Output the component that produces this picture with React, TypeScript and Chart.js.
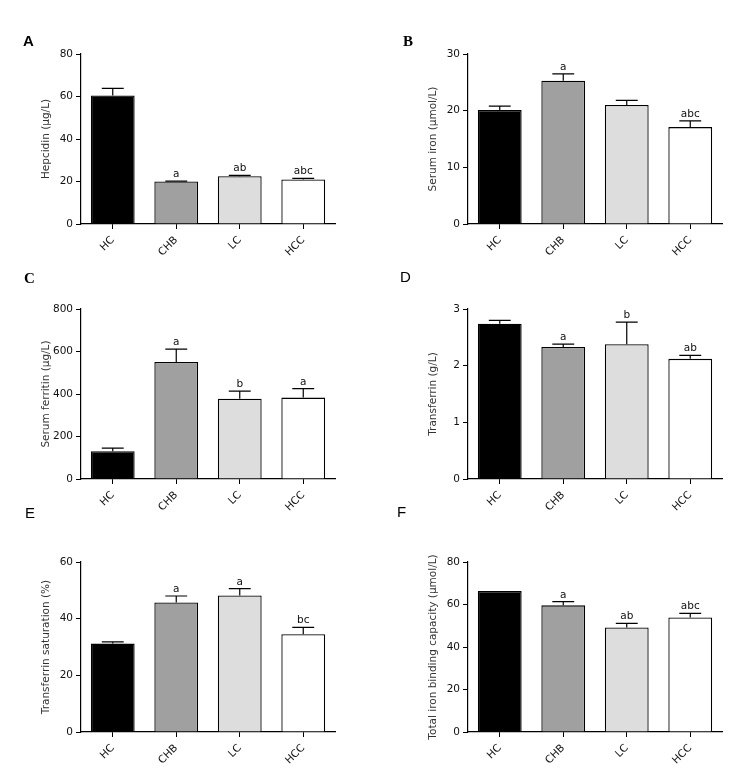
import React, { useEffect, useRef } from "react";
import { Chart, registerables } from "chart.js";

Chart.register(...registerables);

const categories = ["HC", "CHB", "LC", "HCC"];
const barColors = ["#000000", "#a0a0a0", "#dcdddc", "#ffffff"];

const hepcidinMean = [60.5, 20.0, 22.5, 21.0];
const hepcidinSem = [3.3, 0.15, 0.4, 0.5];
const hepcidinMarks = ["", "a", "ab", "abc"];

const ironMean = [20.1, 25.3, 21.0, 17.1];
const ironSem = [0.7, 1.2, 0.8, 1.1];
const ironMarks = ["", "a", "", "abc"];

const ferritinMean = [131, 551, 378, 383];
const ferritinSem = [14, 60, 36, 42];
const ferritinMarks = ["", "a", "b", "a"];

const transferrinMean = [2.74, 2.33, 2.38, 2.12];
const transferrinSem = [0.06, 0.05, 0.39, 0.06];
const transferrinMarks = ["", "a", "b", "ab"];

const saturationMean = [31.2, 45.7, 48.2, 34.5];
const saturationSem = [0.6, 2.3, 2.4, 2.4];
const saturationMarks = ["", "a", "a", "bc"];

const tibcMean = [66.3, 59.6, 49.2, 53.9];
const tibcSem = [0, 1.8, 1.9, 1.9];
const tibcMarks = ["", "a", "ab", "abc"];

const FONT = "'DejaVu Sans', Verdana, sans-serif";

type PanelProps = {
  letter: string;
  letterBold: boolean;
  letterSerif: boolean;
  letterLeft: number;
  letterTop: number;
  left: number;
  top: number;
  title: string;
  max: number;
  step: number;
  mean: number[];
  sem: number[];
  marks: string[];
};

const errorPlugin = {
  id: "errorBarsAndMarks",
  afterDatasetsDraw(chart: any, _args: any, opts: any) {
    const { ctx } = chart;
    const meta = chart.getDatasetMeta(0);
    const yScale = chart.scales.y;
    const sem: number[] = opts.sem || [];
    const marks: string[] = opts.marks || [];
    const mean: number[] = chart.data.datasets[0].data;
    ctx.save();
    meta.data.forEach((bar: any, i: number) => {
      const x = bar.x;
      const yTop = yScale.getPixelForValue(mean[i]);
      const yErr = yScale.getPixelForValue(mean[i] + (sem[i] || 0));
      const half = bar.width / 4;
      if (sem[i] > 0) {
        ctx.strokeStyle = "#000";
        ctx.lineWidth = 1.2;
        ctx.beginPath();
        ctx.moveTo(x, yTop);
        ctx.lineTo(x, yErr);
        ctx.moveTo(x - half, yErr);
        ctx.lineTo(x + half, yErr);
        ctx.stroke();
      }
      if (marks[i]) {
        ctx.fillStyle = "#111";
        ctx.font = `10.5px ${FONT}`;
        ctx.textAlign = "center";
        ctx.textBaseline = "alphabetic";
        ctx.fillText(marks[i], x, yErr - 4);
      }
    });
    ctx.restore();
  },
};

function Panel(p: PanelProps) {
  const ref = useRef<HTMLCanvasElement | null>(null);
  useEffect(() => {
    if (!ref.current) return;
    const chart = new Chart(ref.current, {
      type: "bar",
      data: {
        labels: categories,
        datasets: [
          {
            data: p.mean,
            backgroundColor: barColors,
            borderColor: "#000",
            borderWidth: 1.3,
            barPercentage: 0.69,
            categoryPercentage: 1,
          },
        ],
      },
      options: {
        animation: false,
        responsive: false,
        maintainAspectRatio: false,
        layout: { padding: { top: 54, right: 22, left: 0, bottom: 0 } },
        plugins: {
          legend: { display: false },
          tooltip: { enabled: false },
          errorBarsAndMarks: { sem: p.sem, marks: p.marks },
        } as any,
        scales: {
          x: {
            grid: {
              display: true,
              drawOnChartArea: false,
              drawTicks: true,
              tickLength: 5,
              color: "#000",
              offset: false,
            },
            border: { display: true, color: "#000", width: 1.2 },
            ticks: {
              color: "#111",
              font: { family: FONT, size: 10.5 },
              minRotation: 45,
              maxRotation: 45,
              padding: 5,
            },
            afterFit: (s: any) => {
              s.height = 56;
            },
          },
          y: {
            min: 0,
            max: p.max,
            grid: {
              display: true,
              drawOnChartArea: false,
              drawTicks: true,
              tickLength: 5,
              color: "#000",
            },
            border: { display: true, color: "#000", width: 1.2 },
            ticks: {
              stepSize: p.step,
              color: "#111",
              font: { family: FONT, size: 10.5 },
              padding: 3,
            },
            title: {
              display: true,
              text: p.title,
              color: "#333",
              font: { family: FONT, size: 10.5 },
              padding: { top: 40, bottom: 0 },
            },
            afterFit: (s: any) => {
              s.width = 81;
            },
          },
        },
      },
      plugins: [errorPlugin],
    });
    return () => chart.destroy();
  }, []);
  return (
    <>
      <canvas
        ref={ref}
        width={357}
        height={280}
        style={{ position: "absolute", left: p.left, top: p.top, width: 357, height: 280 }}
      />
      <div
        style={{
          position: "absolute",
          left: p.letterLeft,
          top: p.letterTop - 2,
          fontFamily: p.letterSerif ? "'Liberation Serif', serif" : "'Liberation Sans', Arial, sans-serif",
          fontWeight: p.letterBold ? "bold" : "normal",
          fontSize: 15,
          lineHeight: "15px",
          color: "#000",
        }}
      >
        {p.letter}
      </div>
    </>
  );
}

export default function App() {
  return (
    <div
      style={{
        position: "absolute",
        left: 0,
        top: 0,
        width: 744,
        height: 774,
        background: "#fff",
        overflow: "hidden",
      }}
    >
      <Panel letter="A" letterBold letterSerif={false} letterLeft={23} letterTop={35} left={0} top={0}
        title="Hepcidin (μg/L)" max={80} step={20} mean={hepcidinMean} sem={hepcidinSem} marks={hepcidinMarks} />
      <Panel letter="B" letterBold letterSerif letterLeft={403} letterTop={36} left={387} top={0}
        title="Serum iron (μmol/L)" max={30} step={10} mean={ironMean} sem={ironSem} marks={ironMarks} />
      <Panel letter="C" letterBold letterSerif letterLeft={24} letterTop={273} left={0} top={255}
        title="Serum ferritin (μg/L)" max={800} step={200} mean={ferritinMean} sem={ferritinSem} marks={ferritinMarks} />
      <Panel letter="D" letterBold={false} letterSerif={false} letterLeft={400} letterTop={271} left={387} top={255}
        title="Transferrin (g/L)" max={3} step={1} mean={transferrinMean} sem={transferrinSem} marks={transferrinMarks} />
      <Panel letter="E" letterBold={false} letterSerif={false} letterLeft={25} letterTop={507} left={0} top={508}
        title="Transferrin saturation (%)" max={60} step={20} mean={saturationMean} sem={saturationSem} marks={saturationMarks} />
      <Panel letter="F" letterBold={false} letterSerif={false} letterLeft={397} letterTop={506} left={387} top={508}
        title="Total iron binding capacity (μmol/L)" max={80} step={20} mean={tibcMean} sem={tibcSem} marks={tibcMarks} />
    </div>
  );
}
